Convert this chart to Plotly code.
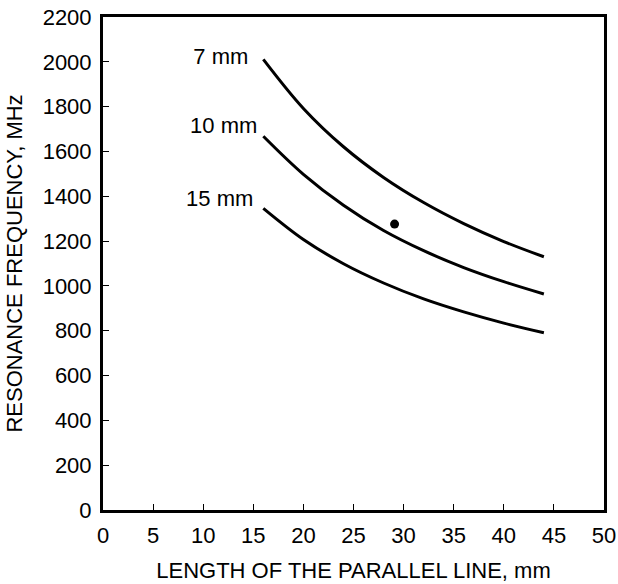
import plotly.graph_objects as go

length_mm = [16, 20, 24, 28, 32, 36, 40, 44]
freq_7mm = [2011, 1792, 1621, 1484, 1372, 1278, 1198, 1130]
freq_10mm = [1668, 1498, 1360, 1247, 1157, 1082, 1019, 964]
freq_15mm = [1346, 1207, 1099, 1013, 942, 884, 834, 791]
point_x = [29.1]
point_y = [1276]
label_text = ["7 mm", "10 mm", "15 mm"]
label_x = [14.5, 15.4, 15.0]
label_y = [2017, 1705, 1383]

FONT = "Liberation Sans, Arial, sans-serif"
FS = 22

fig = go.Figure()
for ys in (freq_7mm, freq_10mm, freq_15mm):
    fig.add_trace(go.Scatter(x=length_mm, y=ys, mode="lines",
                             line=dict(color="black", width=3, shape="spline", smoothing=1.0),
                             showlegend=False, hoverinfo="skip"))
fig.add_trace(go.Scatter(x=point_x, y=point_y, mode="markers",
                         marker=dict(color="black", size=9), showlegend=False))
fig.add_trace(go.Scatter(x=label_x, y=label_y, mode="text", text=label_text,
                         textposition="middle left",
                         textfont=dict(family=FONT, size=FS, color="black"),
                         showlegend=False))

axis_common = dict(showline=True, linecolor="black", linewidth=3, mirror=True,
                   ticks="inside", ticklen=6, tickwidth=1, tickcolor="black",
                   showgrid=False, zeroline=False, automargin=False,
                   tickfont=dict(family=FONT, size=FS, color="black"))
fig.update_xaxes(range=[0, 50], dtick=5, tick0=0, ticklabelstandoff=4,
                 title=dict(text="LENGTH OF THE PARALLEL LINE, mm",
                            font=dict(family=FONT, size=FS, color="black"), standoff=16),
                 **axis_common)
fig.update_yaxes(range=[0, 2200], dtick=200, tick0=0, ticklabelstandoff=4,
                 title=dict(text="RESONANCE FREQUENCY, MHz",
                            font=dict(family=FONT, size=FS, color="black"), standoff=14),
                 **axis_common)
fig.update_layout(width=618, height=584, margin=dict(l=103, r=14, t=17, b=74),
                  plot_bgcolor="white", paper_bgcolor="white")
fig.write_html("out.html")
